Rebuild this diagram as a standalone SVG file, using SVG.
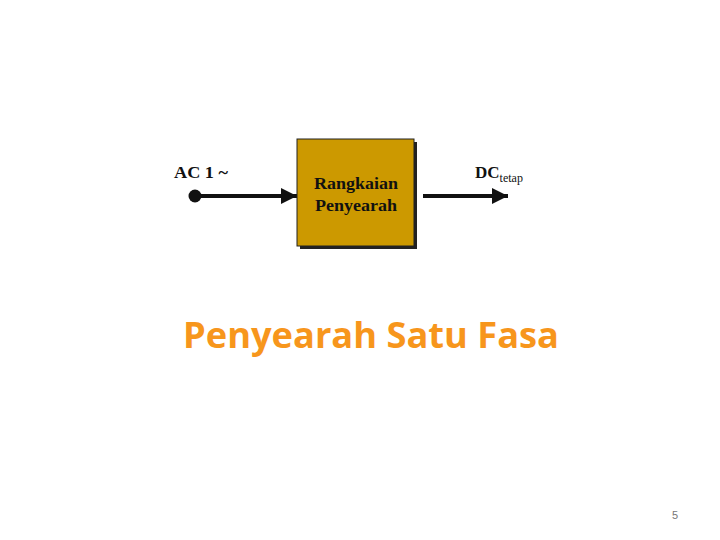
<svg xmlns="http://www.w3.org/2000/svg" width="720" height="540" viewBox="0 0 720 540">
<style>
.lbl{font-family:"Liberation Serif","Times New Roman",serif;font-weight:bold;fill:#111}
.line{stroke:#111;stroke-width:4;fill:none}
</style>
<defs>
<marker id="ah" markerWidth="4" markerHeight="4" refX="4" refY="2" orient="auto" markerUnits="strokeWidth">
<path d="M0,0 L4,2 L0,4 Z" fill="#111"/>
</marker>
</defs>
<rect width="720" height="540" fill="#fff"/>
<g id="connectors">
<line class="line" x1="195" y1="196" x2="297" y2="196" marker-end="url(#ah)"/>
<line class="line" x1="423" y1="196" x2="508" y2="196" marker-end="url(#ah)"/>
</g>
<g id="input">
<circle cx="195" cy="196" r="6.5" fill="#111"/>
<text class="lbl" x="174" y="178" font-size="17" textLength="54" lengthAdjust="spacingAndGlyphs">AC 1 ~</text>
</g>
<g id="block">
<rect x="300" y="142" width="117" height="107" fill="#222"/>
<rect x="297" y="139" width="117" height="107" fill="#CC9900" stroke="#222" stroke-width="1"/>
<text class="lbl" x="356" y="189" font-size="16" text-anchor="middle" textLength="84" lengthAdjust="spacingAndGlyphs">Rangkaian</text>
<text class="lbl" x="356" y="211" font-size="16" text-anchor="middle" textLength="82" lengthAdjust="spacingAndGlyphs">Penyearah</text>
</g>
<g id="output">
<text class="lbl" x="475" y="178" font-size="17">DC<tspan font-size="12" font-weight="normal" dy="4">tetap</tspan></text>
</g>
<text x="183" y="348" font-family="'Open Sans','Noto Sans',sans-serif" font-weight="bold" font-size="36" fill="#F7961C" textLength="376" lengthAdjust="spacingAndGlyphs">Penyearah Satu Fasa</text>
<text x="672" y="519" font-family="'Liberation Sans',Arial,sans-serif" font-size="11" fill="#777">5</text>
</svg>
